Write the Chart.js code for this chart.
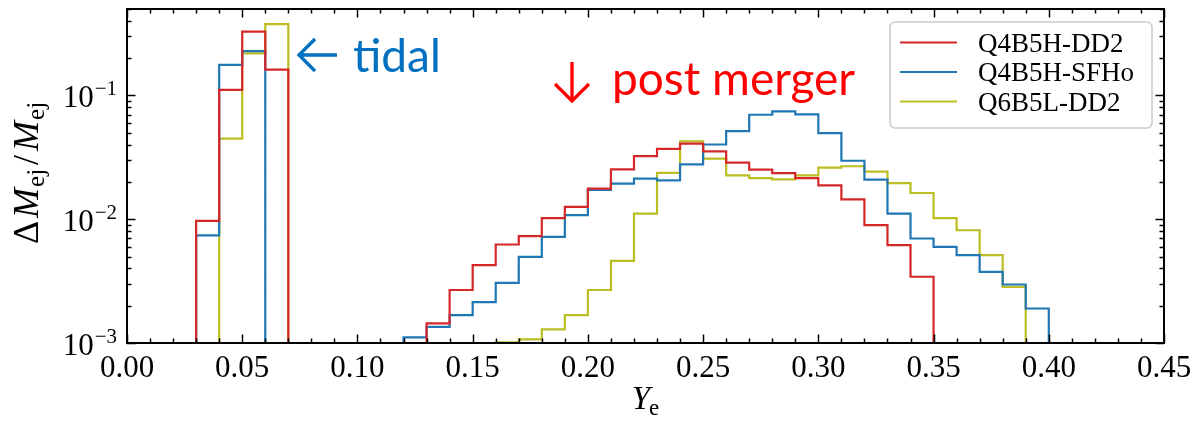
<!DOCTYPE html>
<html>
<head>
<meta charset="utf-8">
<script src="https://cdn.jsdelivr.net/npm/chart.js@4.4.1/dist/chart.umd.min.js"></script>
<style>
  html, body { margin: 0; padding: 0; background: #fff; overflow: hidden; }
  canvas { display: block; }
</style>
</head>
<body>
<canvas id="chart" width="1193" height="424"></canvas>
<script>
// Ye bin edges (bin width 0.01)
const binEdges = [
  0.00, 0.01, 0.02, 0.03, 0.04, 0.05, 0.06, 0.07, 0.08, 0.09,
  0.10, 0.11, 0.12, 0.13, 0.14, 0.15, 0.16, 0.17, 0.18, 0.19,
  0.20, 0.21, 0.22, 0.23, 0.24, 0.25, 0.26, 0.27, 0.28, 0.29,
  0.30, 0.31, 0.32, 0.33, 0.34, 0.35, 0.36, 0.37, 0.38, 0.39,
  0.40, 0.41, 0.42, 0.43, 0.44, 0.45
];

// Ejecta mass fraction per Ye bin
const q4b5hDD2 = [
  0, 0, 0, 0.0097, 0.111, 0.328, 0.162, 0, 0, 0,
  0, 0, 0, 0.00144, 0.00268, 0.00426, 0.00625, 0.0073, 0.0102, 0.0126,
  0.0177, 0.0253, 0.0324, 0.0370, 0.0408, 0.0353, 0.0287, 0.0252, 0.0236, 0.0215,
  0.0188, 0.0145, 0.00895, 0.00617, 0.00343, 0, 0, 0, 0, 0,
  0, 0, 0, 0, 0
];
const q4b5hSFHo = [
  0, 0, 0, 0.0074, 0.177, 0.228, 0, 0, 0, 0,
  0, 0, 0.00111, 0.00135, 0.00168, 0.00214, 0.00306, 0.00497, 0.0072, 0.0108,
  0.0173, 0.0194, 0.0213, 0.0206, 0.0278, 0.0402, 0.0515, 0.0699, 0.0743, 0.0703,
  0.0497, 0.0297, 0.0209, 0.0111, 0.00699, 0.00598, 0.00513, 0.00376, 0.00297, 0.0019,
  0, 0, 0, 0, 0
];
const q6b5lDD2 = [
  0, 0, 0, 0, 0.0448, 0.219, 0.378, 0, 0, 0,
  0, 0, 0, 0, 0, 0, 0.00101, 0.00107, 0.00129, 0.00168,
  0.00268, 0.00461, 0.0111, 0.0237, 0.0426, 0.0309, 0.0226, 0.0215, 0.0210, 0.0226,
  0.0261, 0.0268, 0.0243, 0.0196, 0.0163, 0.0102, 0.00815, 0.00513, 0.00284, 0,
  0, 0, 0, 0, 0
];

const seriesLabels = ['Q4B5H-DD2', 'Q4B5H-SFHo', 'Q6B5L-DD2'];
const seriesColors = ['#d62728', '#1f77b4', '#bcbd22'];

const xTickValues = [0, 0.05, 0.10, 0.15, 0.20, 0.25, 0.30, 0.35, 0.40, 0.45];
const xTickLabels = ['0.00', '0.05', '0.10', '0.15', '0.20', '0.25', '0.30', '0.35', '0.40', '0.45'];
const yTickValues = [1e-3, 1e-2, 1e-1];
const yTickExponents = ['\u22123', '\u22122', '\u22121'];

const X_MIN = 0, X_MAX = 0.45, Y_MIN = 1e-3, Y_MAX = 0.5;
// empty bins are sent far below the log axis so the outline drops out of view
const EMPTY_LEVEL = 1e-5;

function stepPoints(values) {
  const pts = values.map((v, k) => ({ x: binEdges[k], y: v > 0 ? v : EMPTY_LEVEL }));
  pts.push({ x: binEdges[binEdges.length - 1], y: EMPTY_LEVEL });
  return pts;
}

const seriesValues = [q4b5hDD2, q4b5hSFHo, q6b5lDD2];
const datasets = seriesValues.map((vals, i) => ({
  label: seriesLabels[i],
  data: stepPoints(vals),
  borderColor: seriesColors[i],
  backgroundColor: seriesColors[i],
  borderWidth: 2.2,
  pointRadius: 0,
  pointHoverRadius: 0,
  fill: false,
  stepped: 'before',
  tension: 0
}));

const SERIF = "'Liberation Serif', 'DejaVu Serif', serif";

function drawRuns(ctx, runs, x, y, align) {
  let total = 0;
  runs.forEach(r => { ctx.font = r.font; r.w = ctx.measureText(r.t).width + (r.gap || 0); total += r.w; });
  let cx = align === 'center' ? x - total / 2 : (align === 'right' ? x - total : x);
  runs.forEach(r => {
    ctx.font = r.font;
    ctx.fillText(r.t, cx, y + (r.dy || 0));
    cx += r.w;
  });
}

// open line arrow: tip at (tx, ty), pointing along (dx, dy)
function lineArrow(ctx, tx, ty, dx, dy, len, head, color) {
  const px = -dy, py = dx;
  ctx.save();
  ctx.strokeStyle = color;
  ctx.lineWidth = 3.3;
  ctx.lineCap = 'butt';
  ctx.lineJoin = 'miter';
  ctx.beginPath();
  ctx.moveTo(tx - dx * len, ty - dy * len);
  ctx.lineTo(tx, ty);
  ctx.moveTo(tx - dx * head + px * head, ty - dy * head + py * head);
  ctx.lineTo(tx, ty);
  ctx.lineTo(tx - dx * head - px * head, ty - dy * head - py * head);
  ctx.stroke();
  ctx.restore();
}

const axesDecor = {
  id: 'axesDecor',
  afterDatasetsDraw(chart) {
    const { ctx, chartArea: a } = chart;
    const xs = chart.scales.x, ys = chart.scales.y;
    ctx.save();
    ctx.textBaseline = 'alphabetic';
    ctx.fillStyle = '#000';
    ctx.strokeStyle = '#000';

    // inward ticks on all four sides
    const MAJOR = 8.5, MINOR = 4.5;
    ctx.lineWidth = 1.5;
    ctx.beginPath();
    for (let i = 0; i <= 45; i++) {
      const v = i / 100;
      const px = Math.round(xs.getPixelForValue(v)) + 0.5;
      const len = (i % 5 === 0) ? MAJOR : MINOR;
      ctx.moveTo(px, a.bottom); ctx.lineTo(px, a.bottom - len);
      ctx.moveTo(px, a.top); ctx.lineTo(px, a.top + len);
    }
    for (let e = -3; e <= -1; e++) {
      for (let m = 1; m <= 9; m++) {
        const v = m * Math.pow(10, e);
        if (v > Y_MAX) continue;
        const py = Math.round(ys.getPixelForValue(v)) + 0.5;
        const len = (m === 1) ? MAJOR : MINOR;
        ctx.moveTo(a.left, py); ctx.lineTo(a.left + len, py);
        ctx.moveTo(a.right, py); ctx.lineTo(a.right - len, py);
      }
    }
    ctx.stroke();

    // axes frame
    ctx.lineWidth = 2;
    ctx.strokeRect(a.left, a.top, a.right - a.left, a.bottom - a.top);

    // x tick labels
    ctx.font = '31px ' + SERIF;
    ctx.textAlign = 'center';
    xTickValues.forEach((v, i) => {
      ctx.fillText(xTickLabels[i], xs.getPixelForValue(v), a.bottom + 34);
    });

    // y tick labels: 10 with superscript exponent
    ctx.textAlign = 'left';
    yTickValues.forEach((v, i) => {
      const py = ys.getPixelForValue(v);
      const right = a.left - 10;
      ctx.font = '21px ' + SERIF;
      const wSup = ctx.measureText(yTickExponents[i]).width;
      ctx.fillText(yTickExponents[i], right - wSup, py);
      ctx.font = '31px ' + SERIF;
      const wBase = ctx.measureText('10').width;
      ctx.fillText('10', right - wSup - wBase - 1, py + 12);
    });

    // x axis label
    drawRuns(ctx, [
      { t: 'Y', font: 'italic 33px ' + SERIF, gap: -1 },
      { t: 'e', font: '23px ' + SERIF, dy: 6 }
    ], (a.left + a.right) / 2, a.bottom + 66, 'center');

    // y axis label (rotated)
    ctx.save();
    ctx.translate(38, (a.top + a.bottom) / 2 - 3);
    ctx.rotate(-Math.PI / 2);
    drawRuns(ctx, [
      { t: '\u0394', font: '36px ' + SERIF, gap: 3 },
      { t: 'M', font: 'italic 36px ' + SERIF, gap: 1 },
      { t: 'ej', font: '25px ' + SERIF, dy: 6, gap: 4 },
      { t: '/', font: '36px ' + SERIF, gap: 4 },
      { t: 'M', font: 'italic 36px ' + SERIF, gap: 1 },
      { t: 'ej', font: '25px ' + SERIF, dy: 6 }
    ], 0, 0, 'center');
    ctx.restore();

    // legend
    const lx = 890, ly = 22, lw = 262, lh = 106;
    ctx.beginPath();
    ctx.roundRect(lx, ly, lw, lh, 5);
    ctx.fillStyle = 'rgba(255,255,255,0.8)';
    ctx.fill();
    ctx.lineWidth = 1.6;
    ctx.strokeStyle = '#cccccc';
    ctx.stroke();
    ctx.font = '27px ' + SERIF;
    ctx.textAlign = 'left';
    chart.data.datasets.forEach((ds, i) => {
      const yy = 42.5 + i * 29.5;
      ctx.strokeStyle = ds.borderColor;
      ctx.lineWidth = 2.2;
      ctx.beginPath();
      ctx.moveTo(900, yy); ctx.lineTo(957, yy);
      ctx.stroke();
      ctx.fillStyle = '#000';
      ctx.fillText(ds.label, 978, yy + 9);
    });

    // region annotations
    lineArrow(ctx, 299, 55, -1, 0, 38, 16, '#0070C0');
    ctx.font = '46px Lato';
    ctx.fillStyle = '#0070C0';
    ctx.fillText('tidal', 353, 72);

    lineArrow(ctx, 572, 101, 0, 1, 39, 17, '#FF0000');
    ctx.font = '46px Lato';
    ctx.fillStyle = '#FF0000';
    ctx.fillText('post merger', 612, 95);

    ctx.restore();
  }
};

new Chart(document.getElementById('chart'), {
  type: 'line',
  data: { datasets },
  options: {
    responsive: false,
    animation: false,
    devicePixelRatio: 1,
    layout: { padding: { left: 127, right: 29, top: 9, bottom: 81 } },
    plugins: { legend: { display: false }, tooltip: { enabled: false } },
    events: [],
    scales: {
      x: { type: 'linear', display: false, min: X_MIN, max: X_MAX },
      y: { type: 'logarithmic', display: false, min: Y_MIN, max: Y_MAX }
    }
  },
  plugins: [axesDecor]
});
</script>
</body>
</html>
